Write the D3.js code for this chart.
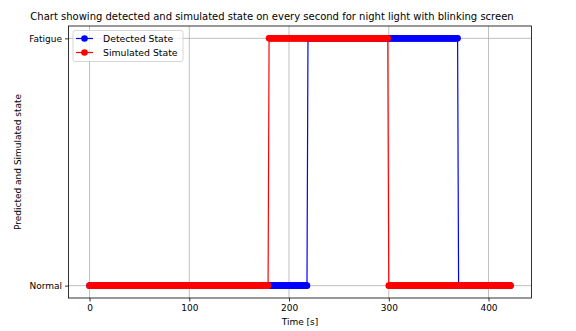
<!DOCTYPE html>
<html>
<head>
<meta charset="utf-8">
<script src="https://cdn.jsdelivr.net/npm/d3@7"></script>
<style>
  body { margin: 0; background: #fff; }
  svg { font-family: "DejaVu Sans", sans-serif; }
</style>
</head>
<body>
<div id="chart"></div>
<script>
// States on the y axis
const states = ["Normal", "Fatigue"];
const xTicks = [0, 100, 200, 300, 400];

// Runs of constant state, one sample per second (start..end inclusive)
const detectedRuns = [
  { state: "Normal", start: 0, end: 218 },
  { state: "Fatigue", start: 219, end: 369 },
  { state: "Normal", start: 370, end: 422 }
];
const simulatedRuns = [
  { state: "Normal", start: 0, end: 179 },
  { state: "Fatigue", start: 180, end: 299 },
  { state: "Normal", start: 300, end: 422 }
];

// expand runs into one point per second
function expand(runs) {
  const pts = [];
  runs.forEach(r => {
    for (let t = r.start; t <= r.end; t++) pts.push({ t: t, state: r.state });
  });
  return pts;
}

const series = [
  { name: "Detected State", color: "blue", data: expand(detectedRuns) },
  { name: "Simulated State", color: "red", data: expand(simulatedRuns) }
];

const width = 576, height = 331;
const margin = { top: 26, right: 44.5, bottom: 33, left: 68.5 };
const innerWidth = width - margin.left - margin.right;
const innerHeight = height - margin.top - margin.bottom;

const svg = d3.select("#chart")
  .append("svg")
  .attr("width", width)
  .attr("height", height);

const inner = svg.append("g")
  .attr("transform", `translate(${margin.left}, ${margin.top})`);

const xMax = d3.max(series, s => d3.max(s.data, d => d.t));
const pad = xMax * 0.05;
const xScale = d3.scaleLinear()
  .domain([-pad, xMax + pad])
  .range([0, innerWidth]);

const yIndex = d3.scaleOrdinal().domain(states).range([0, 1]);
const yScale = d3.scaleLinear()
  .domain([-0.05, 1.05])
  .range([innerHeight, 0]);

// grid
inner.append("g")
  .selectAll("line")
  .data(xTicks)
  .join("line")
    .attr("x1", d => xScale(d)).attr("x2", d => xScale(d))
    .attr("y1", 0).attr("y2", innerHeight)
    .attr("stroke", "#b0b0b0").attr("stroke-width", 0.8);

inner.append("g")
  .selectAll("line")
  .data(states)
  .join("line")
    .attr("x1", 0).attr("x2", innerWidth)
    .attr("y1", d => yScale(yIndex(d))).attr("y2", d => yScale(yIndex(d)))
    .attr("stroke", "#b0b0b0").attr("stroke-width", 0.8);

// series
const line = d3.line()
  .x(d => xScale(d.t))
  .y(d => yScale(yIndex(d.state)));

series.forEach(s => {
  const g = inner.append("g");
  g.append("path")
    .datum(s.data)
    .attr("fill", "none")
    .attr("stroke", s.color)
    .attr("stroke-width", 1.2)
    .attr("d", line);
  g.selectAll("circle")
    .data(s.data)
    .join("circle")
      .attr("cx", d => xScale(d.t))
      .attr("cy", d => yScale(yIndex(d.state)))
      .attr("r", 3.3)
      .attr("fill", s.color);
});

// axes
const bottomAxis = d3.axisBottom(xScale).tickValues(xTicks).tickSize(3.5).tickPadding(3);
const leftAxis = d3.axisLeft(yScale)
  .tickValues([0, 1])
  .tickFormat(d => states[d])
  .tickSize(3.5).tickPadding(3);

const xg = inner.append("g")
  .attr("transform", `translate(0, ${innerHeight})`)
  .call(bottomAxis);
const yg = inner.append("g").call(leftAxis);

[xg, yg].forEach(g => {
  g.select(".domain").remove();
  g.selectAll("text").attr("font-size", 9).attr("fill", "#000")
    .attr("font-family", "DejaVu Sans");
  g.selectAll("line").attr("stroke", "#000").attr("stroke-width", 0.8);
});

// frame
inner.append("rect")
  .attr("width", innerWidth)
  .attr("height", innerHeight)
  .attr("fill", "none")
  .attr("stroke", "#000")
  .attr("stroke-width", 0.8);

// title + labels
svg.append("text")
  .text("Chart showing detected and simulated state on every second for night light with blinking screen")
  .attr("x", 272)
  .attr("y", 20)
  .attr("text-anchor", "middle")
  .attr("font-size", 10);

svg.append("text")
  .text("Time [s]")
  .attr("x", margin.left + innerWidth / 2)
  .attr("y", 325)
  .attr("text-anchor", "middle")
  .attr("font-size", 9);

svg.append("text")
  .text("Predicted and Simulated state")
  .attr("transform", `translate(21, ${margin.top + innerHeight / 2}) rotate(-90)`)
  .attr("text-anchor", "middle")
  .attr("font-size", 9);

// legend
const legend = inner.append("g")
  .attr("transform", "translate(4.5, 4.5)");

legend.append("rect")
  .attr("width", 110)
  .attr("height", 31)
  .attr("rx", 2)
  .attr("fill", "#fff")
  .attr("fill-opacity", 0.8)
  .attr("stroke", "#cccccc")
  .attr("stroke-width", 0.8);

series.forEach((s, i) => {
  const row = legend.append("g").attr("transform", `translate(0, ${8 + i * 14})`);
  row.append("line")
    .attr("x1", 3).attr("x2", 20)
    .attr("stroke", s.color).attr("stroke-width", 1.2);
  row.append("circle")
    .attr("cx", 11.5).attr("r", 3.3).attr("fill", s.color);
  row.append("text")
    .attr("x", 30).attr("y", 3.3)
    .attr("font-size", 9.3)
    .text(s.name);
});
</script>
</body>
</html>
